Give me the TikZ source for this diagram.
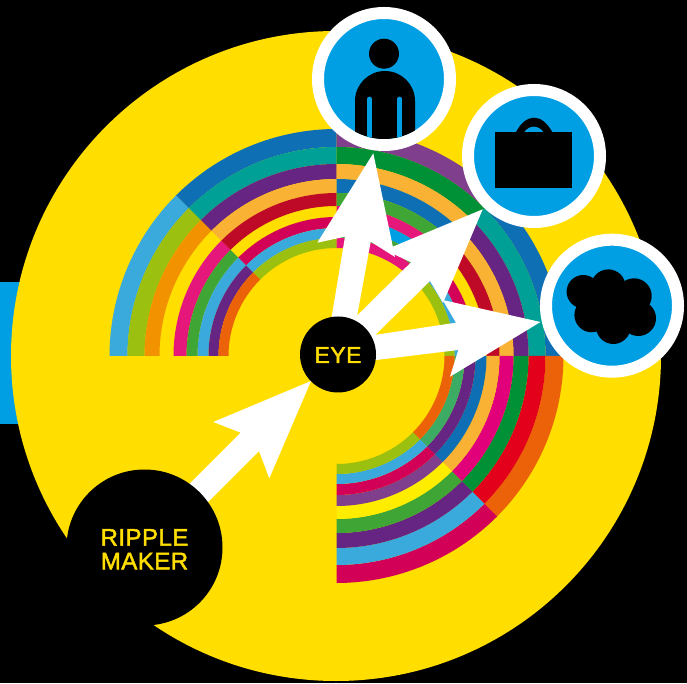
\documentclass[tikz,border=0pt]{standalone}
\usepackage{fontspec}
\setmainfont{Liberation Sans}
\newfontfamily\hubfont[FakeBold=2,LetterSpace=2]{Liberation Sans}
\definecolor{discyellow}{HTML}{FFDE00}
\definecolor{iconblue}{HTML}{009FE3}
\definecolor{ringblue}{HTML}{0E6FB5}
\definecolor{ringteal}{HTML}{00A096}
\definecolor{ringpurple}{HTML}{662483}
\definecolor{ringorange}{HTML}{F9B233}
\definecolor{ringred}{HTML}{BE0A26}
\definecolor{ringcrimson}{HTML}{D30057}
\definecolor{ringsky}{HTML}{3AAADC}
\definecolor{ringolive}{HTML}{9BC00F}
\definecolor{ringamber}{HTML}{F39200}
\definecolor{ringpink}{HTML}{E5177B}
\definecolor{ringgreen}{HTML}{3FA535}
\definecolor{ringflame}{HTML}{EC6209}
\definecolor{ringplum}{HTML}{7F3F8C}
\definecolor{ringforest}{HTML}{009036}
\definecolor{ringscarlet}{HTML}{E2001A}
\definecolor{ringmagenta}{HTML}{E2007A}
\definecolor{ringmint}{HTML}{3CAB63}
\definecolor{ringlemon}{HTML}{FFED00}
\tikzset{
  hubdisc/.style={circle,fill=black,text=discyellow,inner sep=0pt,outer sep=0pt,align=center},
  icondisc/.style={circle,fill=iconblue,draw=white,line width=12pt,minimum size=132pt,inner sep=0pt,outer sep=0pt},
}
\begin{document}
\begin{tikzpicture}[x=1pt,y=1pt]
\path[use as bounding box,fill=black] (0,0) rectangle (687,683);
\fill[iconblue] (0,401) rectangle (30,259);
\fill[discyellow] (336,327) circle (325);
\begin{scope}[shift={(336.5,327)}]
\fill[ringblue] (90:227) arc[start angle=90,end angle=135,radius=227] -- (135:209) arc[start angle=135,end angle=90,radius=209] -- cycle;
\fill[ringteal] (90:209) arc[start angle=90,end angle=135,radius=209] -- (135:192) arc[start angle=135,end angle=90,radius=192] -- cycle;
\fill[ringpurple] (90:192) arc[start angle=90,end angle=135,radius=192] -- (135:177) arc[start angle=135,end angle=90,radius=177] -- cycle;
\fill[ringorange] (90:177) arc[start angle=90,end angle=135,radius=177] -- (135:163) arc[start angle=135,end angle=90,radius=163] -- cycle;
\fill[ringred] (90:163) arc[start angle=90,end angle=135,radius=163] -- (135:150) arc[start angle=135,end angle=90,radius=150] -- cycle;
\fill[ringcrimson] (90:139) arc[start angle=90,end angle=135,radius=139] -- (135:128) arc[start angle=135,end angle=90,radius=128] -- cycle;
\fill[ringsky] (90:128) arc[start angle=90,end angle=135,radius=128] -- (135:118) arc[start angle=135,end angle=90,radius=118] -- cycle;
\fill[ringolive] (90:118) arc[start angle=90,end angle=135,radius=118] -- (135:108) arc[start angle=135,end angle=90,radius=108] -- cycle;
\fill[ringsky] (135:227) arc[start angle=135,end angle=180,radius=227] -- (180:209) arc[start angle=180,end angle=135,radius=209] -- cycle;
\fill[ringolive] (135:209) arc[start angle=135,end angle=180,radius=209] -- (180:192) arc[start angle=180,end angle=135,radius=192] -- cycle;
\fill[ringamber] (135:192) arc[start angle=135,end angle=180,radius=192] -- (180:177) arc[start angle=180,end angle=135,radius=177] -- cycle;
\fill[ringpink] (135:163) arc[start angle=135,end angle=180,radius=163] -- (180:150) arc[start angle=180,end angle=135,radius=150] -- cycle;
\fill[ringgreen] (135:150) arc[start angle=135,end angle=180,radius=150] -- (180:139) arc[start angle=180,end angle=135,radius=139] -- cycle;
\fill[ringsky] (135:139) arc[start angle=135,end angle=180,radius=139] -- (180:128) arc[start angle=180,end angle=135,radius=128] -- cycle;
\fill[ringpurple] (135:128) arc[start angle=135,end angle=180,radius=128] -- (180:118) arc[start angle=180,end angle=135,radius=118] -- cycle;
\fill[ringflame] (135:118) arc[start angle=135,end angle=180,radius=118] -- (180:108) arc[start angle=180,end angle=135,radius=108] -- cycle;
\fill[ringplum] (45:227) arc[start angle=45,end angle=90,radius=227] -- (90:209) arc[start angle=90,end angle=45,radius=209] -- cycle;
\fill[ringforest] (45:209) arc[start angle=45,end angle=90,radius=209] -- (90:192) arc[start angle=90,end angle=45,radius=192] -- cycle;
\fill[ringorange] (45:192) arc[start angle=45,end angle=90,radius=192] -- (90:177) arc[start angle=90,end angle=45,radius=177] -- cycle;
\fill[ringblue] (45:177) arc[start angle=45,end angle=90,radius=177] -- (90:163) arc[start angle=90,end angle=45,radius=163] -- cycle;
\fill[ringgreen] (45:163) arc[start angle=45,end angle=90,radius=163] -- (90:150) arc[start angle=90,end angle=45,radius=150] -- cycle;
\fill[ringpink] (45:150) arc[start angle=45,end angle=90,radius=150] -- (90:139) arc[start angle=90,end angle=45,radius=139] -- cycle;
\fill[iconblue] (45:139) arc[start angle=45,end angle=90,radius=139] -- (90:128) arc[start angle=90,end angle=45,radius=128] -- cycle;
\fill[ringgreen] (45:128) arc[start angle=45,end angle=90,radius=128] -- (90:118) arc[start angle=90,end angle=45,radius=118] -- cycle;
\fill[ringpink] (45:118) arc[start angle=45,end angle=90,radius=118] -- (90:108) arc[start angle=90,end angle=45,radius=108] -- cycle;
\fill[ringblue] (0:227) arc[start angle=0,end angle=45,radius=227] -- (45:209) arc[start angle=45,end angle=0,radius=209] -- cycle;
\fill[ringteal] (0:209) arc[start angle=0,end angle=45,radius=209] -- (45:192) arc[start angle=45,end angle=0,radius=192] -- cycle;
\fill[ringpurple] (0:192) arc[start angle=0,end angle=45,radius=192] -- (45:177) arc[start angle=45,end angle=0,radius=177] -- cycle;
\fill[ringorange] (0:177) arc[start angle=0,end angle=45,radius=177] -- (45:163) arc[start angle=45,end angle=0,radius=163] -- cycle;
\fill[ringred] (0:163) arc[start angle=0,end angle=45,radius=163] -- (45:150) arc[start angle=45,end angle=0,radius=150] -- cycle;
\fill[ringcrimson] (0:139) arc[start angle=0,end angle=45,radius=139] -- (45:128) arc[start angle=45,end angle=0,radius=128] -- cycle;
\fill[ringsky] (0:128) arc[start angle=0,end angle=45,radius=128] -- (45:118) arc[start angle=45,end angle=0,radius=118] -- cycle;
\fill[ringolive] (0:118) arc[start angle=0,end angle=45,radius=118] -- (45:108) arc[start angle=45,end angle=0,radius=108] -- cycle;
\fill[ringflame] (-45:227) arc[start angle=-45,end angle=0,radius=227] -- (0:209) arc[start angle=0,end angle=-45,radius=209] -- cycle;
\fill[ringscarlet] (-45:209) arc[start angle=-45,end angle=0,radius=209] -- (0:192) arc[start angle=0,end angle=-45,radius=192] -- cycle;
\fill[ringforest] (-45:192) arc[start angle=-45,end angle=0,radius=192] -- (0:177) arc[start angle=0,end angle=-45,radius=177] -- cycle;
\fill[ringmagenta] (-45:177) arc[start angle=-45,end angle=0,radius=177] -- (0:163) arc[start angle=0,end angle=-45,radius=163] -- cycle;
\fill[ringorange] (-45:163) arc[start angle=-45,end angle=0,radius=163] -- (0:150) arc[start angle=0,end angle=-45,radius=150] -- cycle;
\fill[ringblue] (-45:150) arc[start angle=-45,end angle=0,radius=150] -- (0:139) arc[start angle=0,end angle=-45,radius=139] -- cycle;
\fill[ringpurple] (-45:139) arc[start angle=-45,end angle=0,radius=139] -- (0:128) arc[start angle=0,end angle=-45,radius=128] -- cycle;
\fill[ringmint] (-45:128) arc[start angle=-45,end angle=0,radius=128] -- (0:118) arc[start angle=0,end angle=-45,radius=118] -- cycle;
\fill[ringflame] (-45:118) arc[start angle=-45,end angle=0,radius=118] -- (0:108) arc[start angle=0,end angle=-45,radius=108] -- cycle;
\fill[ringcrimson] (-90:227) arc[start angle=-90,end angle=-45,radius=227] -- (-45:209) arc[start angle=-45,end angle=-90,radius=209] -- cycle;
\fill[ringsky] (-90:209) arc[start angle=-90,end angle=-45,radius=209] -- (-45:192) arc[start angle=-45,end angle=-90,radius=192] -- cycle;
\fill[ringpurple] (-90:192) arc[start angle=-90,end angle=-45,radius=192] -- (-45:177) arc[start angle=-45,end angle=-90,radius=177] -- cycle;
\fill[ringgreen] (-90:177) arc[start angle=-90,end angle=-45,radius=177] -- (-45:163) arc[start angle=-45,end angle=-90,radius=163] -- cycle;
\fill[ringlemon] (-90:163) arc[start angle=-90,end angle=-45,radius=163] -- (-45:150) arc[start angle=-45,end angle=-90,radius=150] -- cycle;
\fill[ringplum] (-90:150) arc[start angle=-90,end angle=-45,radius=150] -- (-45:139) arc[start angle=-45,end angle=-90,radius=139] -- cycle;
\fill[ringcrimson] (-90:139) arc[start angle=-90,end angle=-45,radius=139] -- (-45:128) arc[start angle=-45,end angle=-90,radius=128] -- cycle;
\fill[ringsky] (-90:128) arc[start angle=-90,end angle=-45,radius=128] -- (-45:118) arc[start angle=-45,end angle=-90,radius=118] -- cycle;
\fill[ringolive] (-90:118) arc[start angle=-90,end angle=-45,radius=118] -- (-45:108) arc[start angle=-45,end angle=-90,radius=108] -- cycle;
\end{scope}
\fill[white] (170,179.7) -- (240.7,250.3) -- (213.3,261) -- (311,302) -- (269.3,204.7) -- (259,232) -- (188.3,161.3) -- cycle;
\fill[white] (327.8,343) -- (345,446.3) -- (317.3,440.3) -- (373.3,529.7) -- (395,426) -- (370.7,441.3) -- (352.7,343) -- cycle;
\fill[white] (340,350.5) -- (411,420.7) -- (384.8,433) -- (482.7,473.7) -- (443,380) -- (430,402) -- (355,328) -- cycle;
\fill[white] (345,343.6) -- (456,360.3) -- (442.7,383) -- (540.5,361) -- (450,306.3) -- (458.3,333) -- (345,319.2) -- cycle;
\node[hubdisc,minimum size=76pt,font=\hubfont\fontsize{23}{23}\selectfont,text height=17pt] (eyenode) at (338,328.5) {EYE};
\node[hubdisc,minimum size=156pt,font=\hubfont\fontsize{24}{23.6}\selectfont] (makernode) at (144.5,135.5) {\rule{0pt}{20pt}RIPPLE\\MAKER};
\node[icondisc] (persondisc) at (384,604) {};
\begin{scope}
\clip (384,604) circle (60);
\fill[black] (355,540) -- (355,582) arc[start angle=180,end angle=0,radius=30] -- (415,540) -- cycle;
\draw[iconblue,line width=4.7pt,line cap=round] (369.4,584) -- (369.4,540);
\draw[iconblue,line width=4.7pt,line cap=round] (399.6,584) -- (399.6,540);
\end{scope}
\fill[black] (384,629.3) circle (15);
\node[icondisc] (bagdisc) at (534,527) {};
\fill[black] (516,551) .. controls (521,560) and (527,565.3) .. (534,565.3) .. controls (541,565.3) and (547,560) .. (552.3,551) -- cycle;
\fill[iconblue] (524.3,551) .. controls (527,554.5) and (530,556.3) .. (533.8,556.3) .. controls (537.5,556.3) and (541,554.5) .. (543.3,551) -- cycle;
\fill[black] (495,495.3) rectangle (572,551);
\node[icondisc] (clouddisc) at (612,377.3) {};
\fill[black] (583.3,391.3) circle (16.7);
\fill[black] (608.3,396.3) circle (17.3);
\fill[black] (634,387) circle (17.7);
\fill[black] (638.3,364.7) circle (17.7);
\fill[black] (613.3,356.3) circle (17.3);
\fill[black] (591.7,368) circle (17.3);
\fill[black] (610,375) circle (24);
\end{tikzpicture}
\end{document}
